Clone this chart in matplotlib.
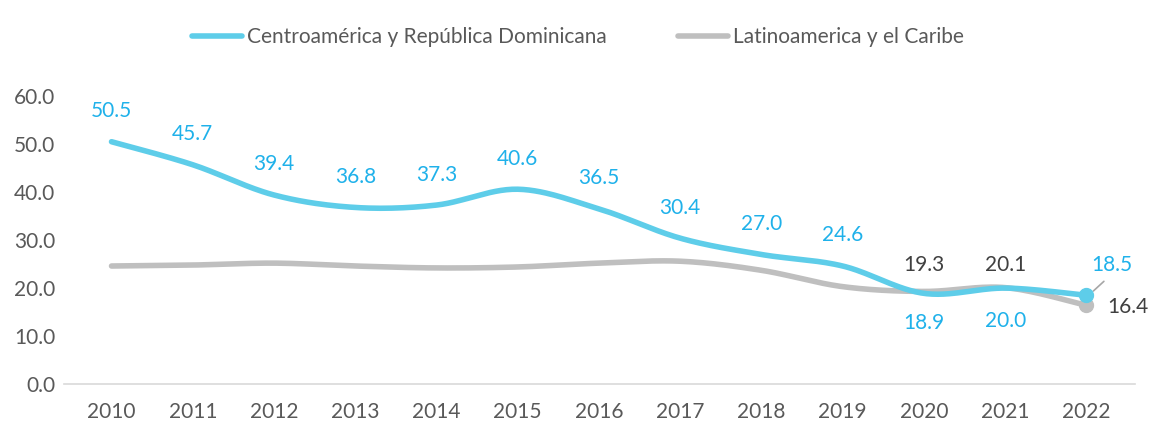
import numpy as np
import matplotlib
matplotlib.use("Agg")
import matplotlib.pyplot as plt
from matplotlib.lines import Line2D

years = [2010, 2011, 2012, 2013, 2014, 2015, 2016, 2017, 2018, 2019, 2020, 2021, 2022]
centro = [50.5, 45.7, 39.4, 36.8, 37.3, 40.6, 36.5, 30.4, 27.0, 24.6, 18.9, 20.0, 18.5]
latam = [24.6, 24.8, 25.2, 24.6, 24.2, 24.4, 25.2, 25.6, 23.7, 20.3, 19.3, 20.1, 16.4]
series_names = ["Centroamérica y República Dominicana", "Latinoamerica y el Caribe"]
yticks = [0, 10, 20, 30, 40, 50, 60]

BLUE = "#5ECDE9"
BLUE_TXT = "#1FB1EA"
GRAY = "#BFBFBF"
GRAY_TXT = "#404040"
TICK = "#595959"

plt.rcParams['font.family'] = ['Lato', 'DejaVu Sans']


def smooth(xs, ys, n=30):
    xs = np.asarray(xs, float)
    ys = np.asarray(ys, float)
    P = np.column_stack([xs, ys])
    out = []
    for i in range(len(P) - 1):
        p0 = P[i - 1] if i > 0 else P[i]
        p1 = P[i]
        p2 = P[i + 1]
        p3 = P[i + 2] if i + 2 < len(P) else P[i + 1]
        c1 = p1 + (p2 - p0) / 6
        c2 = p2 - (p3 - p1) / 6
        t = np.linspace(0, 1, n)[:, None]
        seg = ((1 - t) ** 3) * p1 + 3 * ((1 - t) ** 2) * t * c1 + 3 * (1 - t) * t ** 2 * c2 + t ** 3 * p2
        out.append(seg if i == 0 else seg[1:])
    out = np.vstack(out)
    return out[:, 0], out[:, 1]


fig = plt.figure(figsize=(11.56, 4.33), dpi=100)
ax = fig.add_axes([0.055, 0.113, 0.927, 0.665])
x = np.arange(len(years))

sx, sy = smooth(x, latam)
ax.plot(sx, sy, color=GRAY, lw=4.0, solid_capstyle='round', zorder=2)
sx, sy = smooth(x, centro)
ax.plot(sx, sy, color=BLUE, lw=4.0, solid_capstyle='round', zorder=3)

ax.plot(x[-1], latam[-1], 'o', color=GRAY, ms=10, zorder=4)
ax.plot(x[-1], centro[-1], 'o', color=BLUE, ms=10, zorder=5)

fs = 15
for i, v in enumerate(centro):
    if i < 10:
        ax.annotate(f"{v:.1f}", (x[i], v), xytext=(0, 22), textcoords='offset points',
                    ha='center', va='center', color=BLUE_TXT, fontsize=fs)
    elif i < 12:
        ax.annotate(f"{v:.1f}", (x[i], v), xytext=(0, -21 if i == 10 else -24), textcoords='offset points',
                    ha='center', va='center', color=BLUE_TXT, fontsize=fs)
ax.annotate(f"{centro[-1]:.1f}", (x[-1], centro[-1]), xytext=(18, 22), textcoords='offset points',
            ha='center', va='center', color=BLUE_TXT, fontsize=fs)
ax.annotate("", (x[-1] + 0.06, centro[-1] + 0.5), xytext=(x[-1] + 0.24, centro[-1] + 3.3),
            arrowprops=dict(arrowstyle='-', color='#A6A6A6', lw=1.2))
for i in (10, 11):
    ax.annotate(f"{latam[i]:.1f}", (x[i], latam[i]), xytext=(0, 19 if i == 10 else 16), textcoords='offset points',
                ha='center', va='center', color=GRAY_TXT, fontsize=fs)
ax.annotate(f"{latam[-1]:.1f}", (x[-1], latam[-1]), xytext=(30, -1), textcoords='offset points',
            ha='center', va='center', color=GRAY_TXT, fontsize=fs)

ax.set_xlim(-0.59, 12.6)
ax.set_ylim(0, 60)
ax.set_xticks(x)
ax.set_xticklabels([str(y) for y in years])
ax.set_yticks(yticks)
ax.set_yticklabels([f"{t:.1f}" for t in yticks])
for s in ('top', 'right', 'left'):
    ax.spines[s].set_visible(False)
ax.spines['bottom'].set_color('#D9D9D9')
ax.spines['bottom'].set_linewidth(1.2)
ax.tick_params(axis='both', length=0, labelsize=fs, colors=TICK)
ax.tick_params(axis='x', pad=13)
ax.tick_params(axis='y', pad=6)

handles = [Line2D([], [], color=BLUE, lw=4.0, solid_capstyle='round'),
           Line2D([], [], color=GRAY, lw=4.0, solid_capstyle='round')]
fig.legend(handles, series_names, loc='center', bbox_to_anchor=(0.5, 0.915), ncol=2,
           frameon=False, fontsize=fs, labelcolor=TICK, handlelength=2.4, columnspacing=3.4,
           handletextpad=0.25)

fig.savefig("out.png", dpi=100, facecolor='white')
